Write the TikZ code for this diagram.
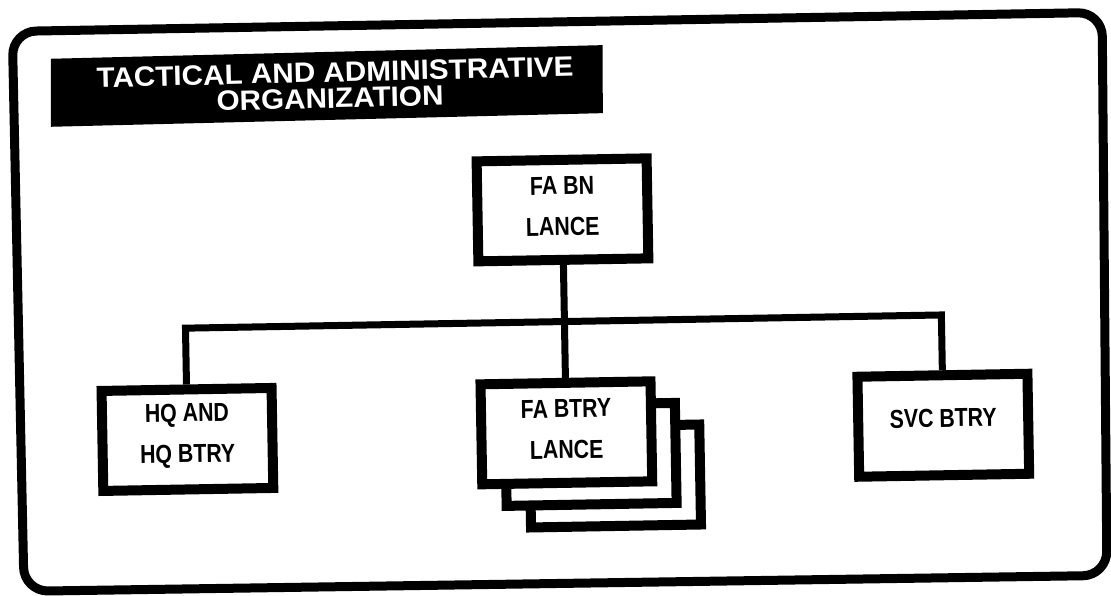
\documentclass[tikz,border=0pt]{standalone}
\usepackage{fontspec}
\newfontfamily\condfont[FakeStretch=0.82]{Liberation Sans}
\newfontfamily\titlefont[FakeStretch=1.06]{Liberation Sans}
\begin{document}
\begin{tikzpicture}[x=1pt,y=-1pt,
  box/.style={draw=black, line width=10pt, fill=white, minimum width=170pt, minimum height=100pt, inner sep=0pt},
  lbl/.style={font=\condfont\bfseries\fontsize{26}{41}\selectfont, align=center, inner sep=0pt},
  conn/.style={line width=7pt, line join=miter},
  frame/.style={line width=9pt, rounded corners=24pt},
  banner/.style={fill=black},
  titletext/.style={text=white, font=\titlefont\bfseries\fontsize{28}{26}\selectfont, inner sep=0pt}]
\useasboundingbox (0,0) rectangle (1111,595);
\fill[white] (0,0) rectangle (1111,595);
\begin{scope}[rotate around={1:(555,297)}, transform shape]
  % outer frame
  \draw[frame] (17,22) -- (1107,22) -- (1102,585) -- (19,582) -- cycle;
  % title banner
  \fill[banner] (55,50) -- (607,46) -- (606,114) -- (54,118) -- cycle;
  \node[titletext, rotate=0.4] (title1) at (339,68.5) {TACTICAL AND ADMINISTRATIVE};
  \node[titletext, rotate=0.4] (title2) at (333.5,94.5) {ORGANIZATION};
  % boxes
  \node[box] (fabn) at (564,210) {};
  \node[lbl] (fabn-l) at (564,206.3) {FA BN\\LANCE};
  \node[box] (hq) at (185,433) {};
  \node[lbl] (hq-l) at (185,429.3) {HQ AND\\HQ BTRY};
  \node[box] (fab3) at (612,477) {};
  \node[box] (fab2) at (588,455) {};
  \node[box] (fabtry) at (564,433) {};
  \node[lbl] (fabtry-l) at (564,429.3) {FA BTRY\\LANCE};
  \node[box] (svc) at (941,432) {};
  \node[lbl] (svc-l) at (941,425) {SVC BTRY};
  % connectors
  \coordinate (bar) at (564,321.7);
  \draw[conn] (fabn.south) -- (fabtry.north);
  \draw[conn] (hq.north) |- (bar) -| (svc.north);
\end{scope}
\end{tikzpicture}
\end{document}
